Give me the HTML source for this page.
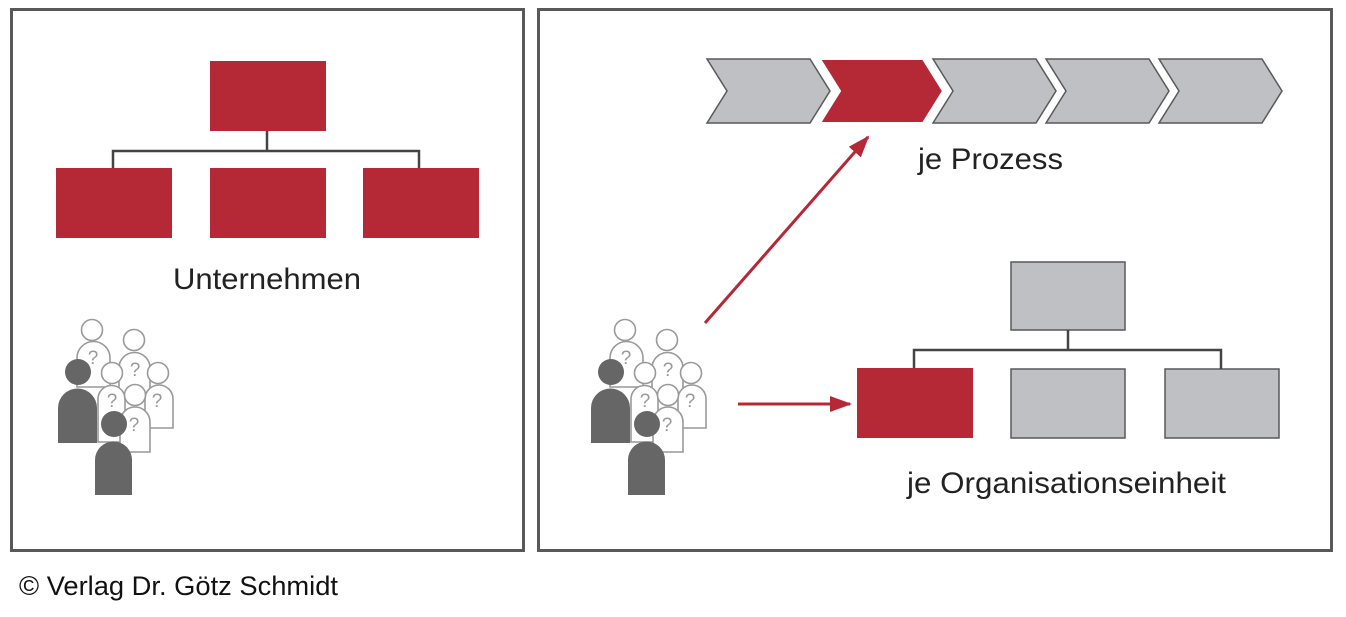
<!DOCTYPE html>
<html><head><meta charset="utf-8"><style>
body{margin:0;background:#fff;width:1346px;height:612px;overflow:hidden}
svg text{font-family:"Liberation Sans",sans-serif}
</style></head><body>
<svg width="1346" height="612" viewBox="0 0 1346 612">
<defs>
<g id="crowd">
 <g fill="#fff" stroke="#999" stroke-width="1.6">
  <path d="M77,387 V358 a16.5,16.5 0 0 1 33,0 V387 Z"/><circle cx="92" cy="330" r="10.5"/>
  <path d="M119,397 V368 a15.5,15.5 0 0 1 31,0 V397 Z"/><circle cx="134" cy="340" r="10.5"/>
  <path d="M145,428 V399 a14,14 0 0 1 28,0 V428 Z"/><circle cx="158" cy="373" r="10.5"/>
  <path d="M98,442 V399 a13.5,13.5 0 0 1 27,0 V442 Z"/><circle cx="112" cy="373" r="10.5"/>
  <path d="M120,452 V422 a15,15 0 0 1 30,0 V452 Z"/><circle cx="135" cy="395" r="10.5"/>
 </g>
 <g fill="#999" font-size="19" text-anchor="middle" font-family="Liberation Sans,sans-serif">
  <text x="93" y="364">?</text><text x="135" y="376">?</text><text x="157" y="407">?</text><text x="112" y="407">?</text><text x="134" y="431">?</text>
 </g>
 <g fill="#666">
  <path d="M58,443 V408 a19.5,19.5 0 0 1 39,0 V443 Z"/><circle cx="78" cy="372" r="13"/>
  <path d="M95,495 V460 a18.5,18.5 0 0 1 37,0 V495 Z"/><circle cx="114" cy="424" r="13"/>
 </g>
</g>
<marker id="ah" markerWidth="22" markerHeight="16" refX="20" refY="8" orient="auto" markerUnits="userSpaceOnUse"><path d="M0,0 L22,8 L0,16 Z" fill="#b52836"/></marker>
</defs>
<rect x="11.5" y="9.5" width="512" height="541" fill="none" stroke="#595959" stroke-width="3"/>
<rect x="538.5" y="9.5" width="793" height="541" fill="none" stroke="#595959" stroke-width="3"/>
<g fill="#b52836">
 <rect x="210" y="61" width="116" height="70"/>
 <rect x="56" y="168" width="116" height="70"/><rect x="210" y="168" width="116" height="70"/><rect x="363" y="168" width="116" height="70"/>
</g>
<path d="M267,131 V151 M113,168 V151 H419 V168" fill="none" stroke="#444" stroke-width="2.5"/>
<text x="173" y="289" font-size="30" textLength="188" lengthAdjust="spacingAndGlyphs" fill="#222">Unternehmen</text>
<use href="#crowd"/>
<use href="#crowd" x="533"/>
<g stroke="#595959" stroke-width="1.5">
 <path d="M707,59 H810 L830,91 L810,123 H707 L727,91 Z" fill="#bfc0c4"/>
 <path d="M820,59 H923 L943,91 L923,123 H820 L840,91 Z" fill="#b52836" stroke="#fff" stroke-width="2"/>
 <path d="M933,59 H1036 L1056,91 L1036,123 H933 L953,91 Z" fill="#bfc0c4"/>
 <path d="M1046,59 H1149 L1169,91 L1149,123 H1046 L1066,91 Z" fill="#bfc0c4"/>
 <path d="M1159,59 H1262 L1282,91 L1262,123 H1159 L1179,91 Z" fill="#bfc0c4"/>
</g>
<text x="918" y="169" font-size="30" textLength="145" lengthAdjust="spacingAndGlyphs" fill="#222">je Prozess</text>
<g stroke="#595959" stroke-width="1.5" fill="#bfc0c4">
 <rect x="1011" y="262" width="114" height="68"/>
 <rect x="1011" y="369" width="114" height="69"/><rect x="1165" y="369" width="114" height="69"/>
</g>
<rect x="857" y="368" width="116" height="70" fill="#b52836"/>
<path d="M1068,330 V350 M914,368 V350 H1221 V369" fill="none" stroke="#444" stroke-width="2.5"/>
<text x="907" y="493" font-size="30" textLength="319" lengthAdjust="spacingAndGlyphs" fill="#222">je Organisationseinheit</text>
<line x1="705" y1="323" x2="868" y2="137" stroke="#b52836" stroke-width="3" marker-end="url(#ah)"/>
<line x1="738" y1="404" x2="850" y2="404" stroke="#b52836" stroke-width="3" marker-end="url(#ah)"/>
<text x="19" y="595" font-size="27" textLength="319" lengthAdjust="spacingAndGlyphs" fill="#111">© Verlag Dr. Götz Schmidt</text>
</svg>
</body></html>
